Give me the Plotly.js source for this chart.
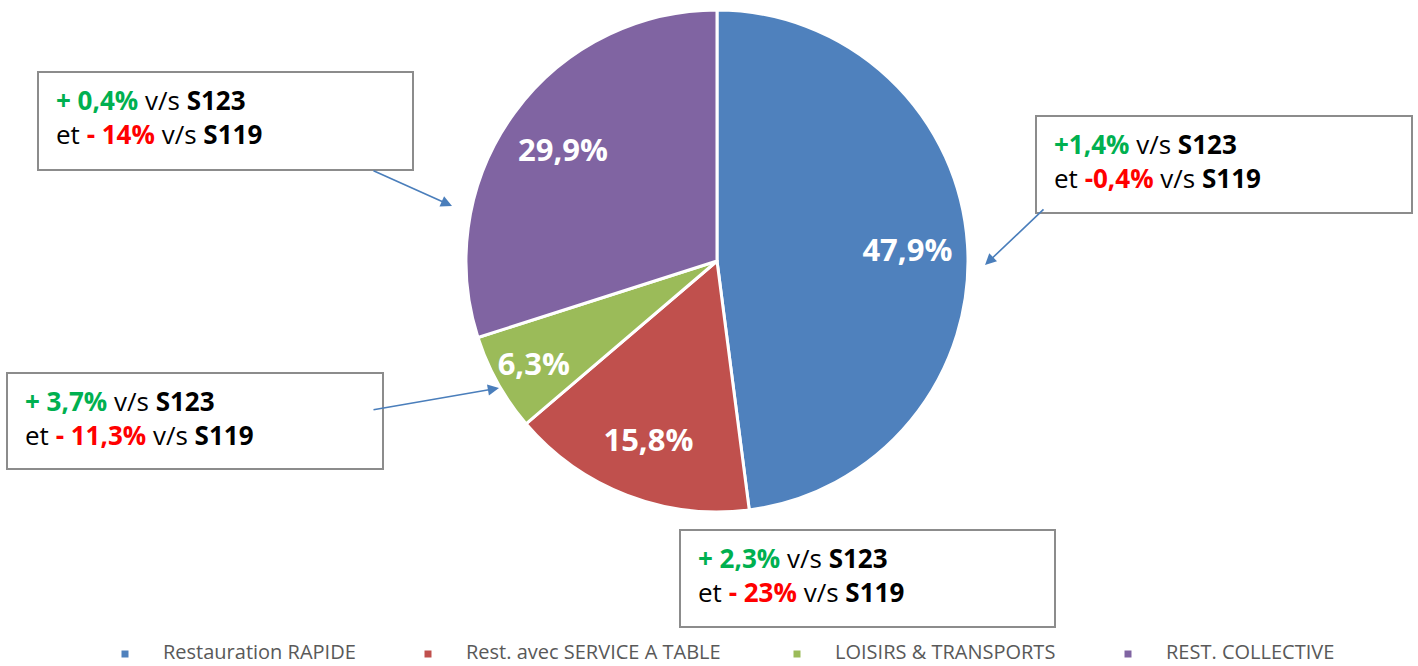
<!DOCTYPE html>
<html>
<head>
<meta charset="utf-8">
<script src="https://cdn.plot.ly/plotly-3.0.1.min.js"></script>
<style>html,body{margin:0;padding:0;background:#fff;}#chart{width:1418px;height:666px;}</style>
</head>
<body>
<div id="chart"></div>
<script>
// ---- data ----
const categories = ['Restauration RAPIDE', 'Rest. avec SERVICE A TABLE', 'LOISIRS & TRANSPORTS', 'REST. COLLECTIVE'];
const shares = [47.9, 15.8, 6.3, 29.9];
const shareLabels = ['47,9%', '15,8%', '6,3%', '29,9%'];
const vsS123 = ['+1,4%', '+ 2,3%', '+ 3,7%', '+ 0,4%'];
const vsS119 = ['-0,4%', '- 23%', '- 11,3%', '- 14%'];
const colors = ['#4F81BD', '#C0504D', '#9BBB59', '#8064A2'];

// ---- layout constants (pixels) ----
const W = 1418, H = 666;
const px = x => x / W;
const py = y => 1 - y / H;
const boxRects = [[1036, 116, 1412, 213], [680, 530, 1055, 627], [7, 373, 383, 469], [38, 72, 413, 170]];
const arrows = [[985, 265, 60, -57], [452, 206, -80, -36], [499, 388, -127, 22]];
const legendMarkerX = [125, 428, 797, 1128];
const legendMarkerY = 654;
const legendTextY = 651;

const boxFont = {family: 'Open Sans, Liberation Sans, sans-serif', size: 26, color: '#000000'};
function boxText(i) {
  return '<b><span style="color:#00B050">' + vsS123[i] + '</span></b> v/s <b>S123</b><br>' +
         'et <b><span style="color:#FF0000">' + vsS119[i] + '</span></b> v/s <b>S119</b>';
}

const shapes = [];
const annotations = [];
boxRects.forEach((b, i) => {
  shapes.push({
    type: 'rect', xref: 'paper', yref: 'paper',
    x0: px(b[0]), x1: px(b[2]), y0: py(b[3]), y1: py(b[1]),
    line: {color: '#8C8C8C', width: 2}, fillcolor: '#FFFFFF', layer: 'above'
  });
  annotations.push({
    xref: 'paper', yref: 'paper', x: px(b[0] + 16), y: py(b[1] + 8),
    xanchor: 'left', yanchor: 'top', showarrow: false,
    text: boxText(i), align: 'left',
    font: boxFont
  });
});
arrows.forEach(a => {
  annotations.push({
    xref: 'paper', yref: 'paper', x: px(a[0]), y: py(a[1]),
    ax: a[2], ay: a[3], axref: 'pixel', ayref: 'pixel',
    text: '', showarrow: true, arrowhead: 2, arrowsize: 1.4, arrowwidth: 1.6,
    arrowcolor: '#4A7EBB', standoff: 0, startstandoff: 0
  });
});
// legend (markers + labels)
categories.forEach((c, i) => {
  const mx = legendMarkerX[i];
  shapes.push({
    type: 'rect', xref: 'paper', yref: 'paper',
    x0: px(mx - 3.5), x1: px(mx + 3.5), y0: py(legendMarkerY + 3.5), y1: py(legendMarkerY - 3.5),
    line: {width: 0}, fillcolor: colors[i]
  });
  annotations.push({
    xref: 'paper', yref: 'paper', x: px(mx + 37), y: py(legendTextY),
    xanchor: 'left', yanchor: 'middle', showarrow: false, borderpad: 0,
    text: c, font: {family: 'Open Sans, sans-serif', size: 20, color: '#595959'}
  });
});

const pieDomain = {x: [px(466), px(968)], y: [py(512), py(10)]};

// coloured pie with white separators
const pieTrace = {
  type: 'pie',
  labels: categories,
  values: shares,
  textinfo: 'none',
  sort: false,
  direction: 'clockwise',
  rotation: 0,
  marker: {colors: colors, line: {color: '#FFFFFF', width: 3}},
  domain: pieDomain,
  hoverinfo: 'label+percent'
};
// transparent ring carrying the percentage labels further out
const labelTrace = {
  type: 'pie',
  labels: categories,
  values: shares,
  text: shareLabels,
  textinfo: 'text',
  texttemplate: '%{text}',
  textposition: 'inside',
  insidetextorientation: 'horizontal',
  insidetextfont: {family: 'Open Sans, sans-serif', size: 31, color: '#FFFFFF', weight: 'bold'},
  hole: 0.52,
  sort: false,
  direction: 'clockwise',
  rotation: 0,
  showlegend: false,
  marker: {colors: colors.map(() => 'rgba(0,0,0,0)'), line: {width: 0}},
  domain: pieDomain,
  hoverinfo: 'skip'
};

const layout = {
  width: W, height: H,
  margin: {l: 0, r: 0, t: 0, b: 0, autoexpand: false},
  paper_bgcolor: '#FFFFFF',
  showlegend: false,
  uniformtext: {mode: 'show', minsize: 31},
  shapes: shapes,
  annotations: annotations
};

Plotly.newPlot('chart', [pieTrace, labelTrace], layout, {displayModeBar: false, staticPlot: true});
</script>
</body>
</html>
